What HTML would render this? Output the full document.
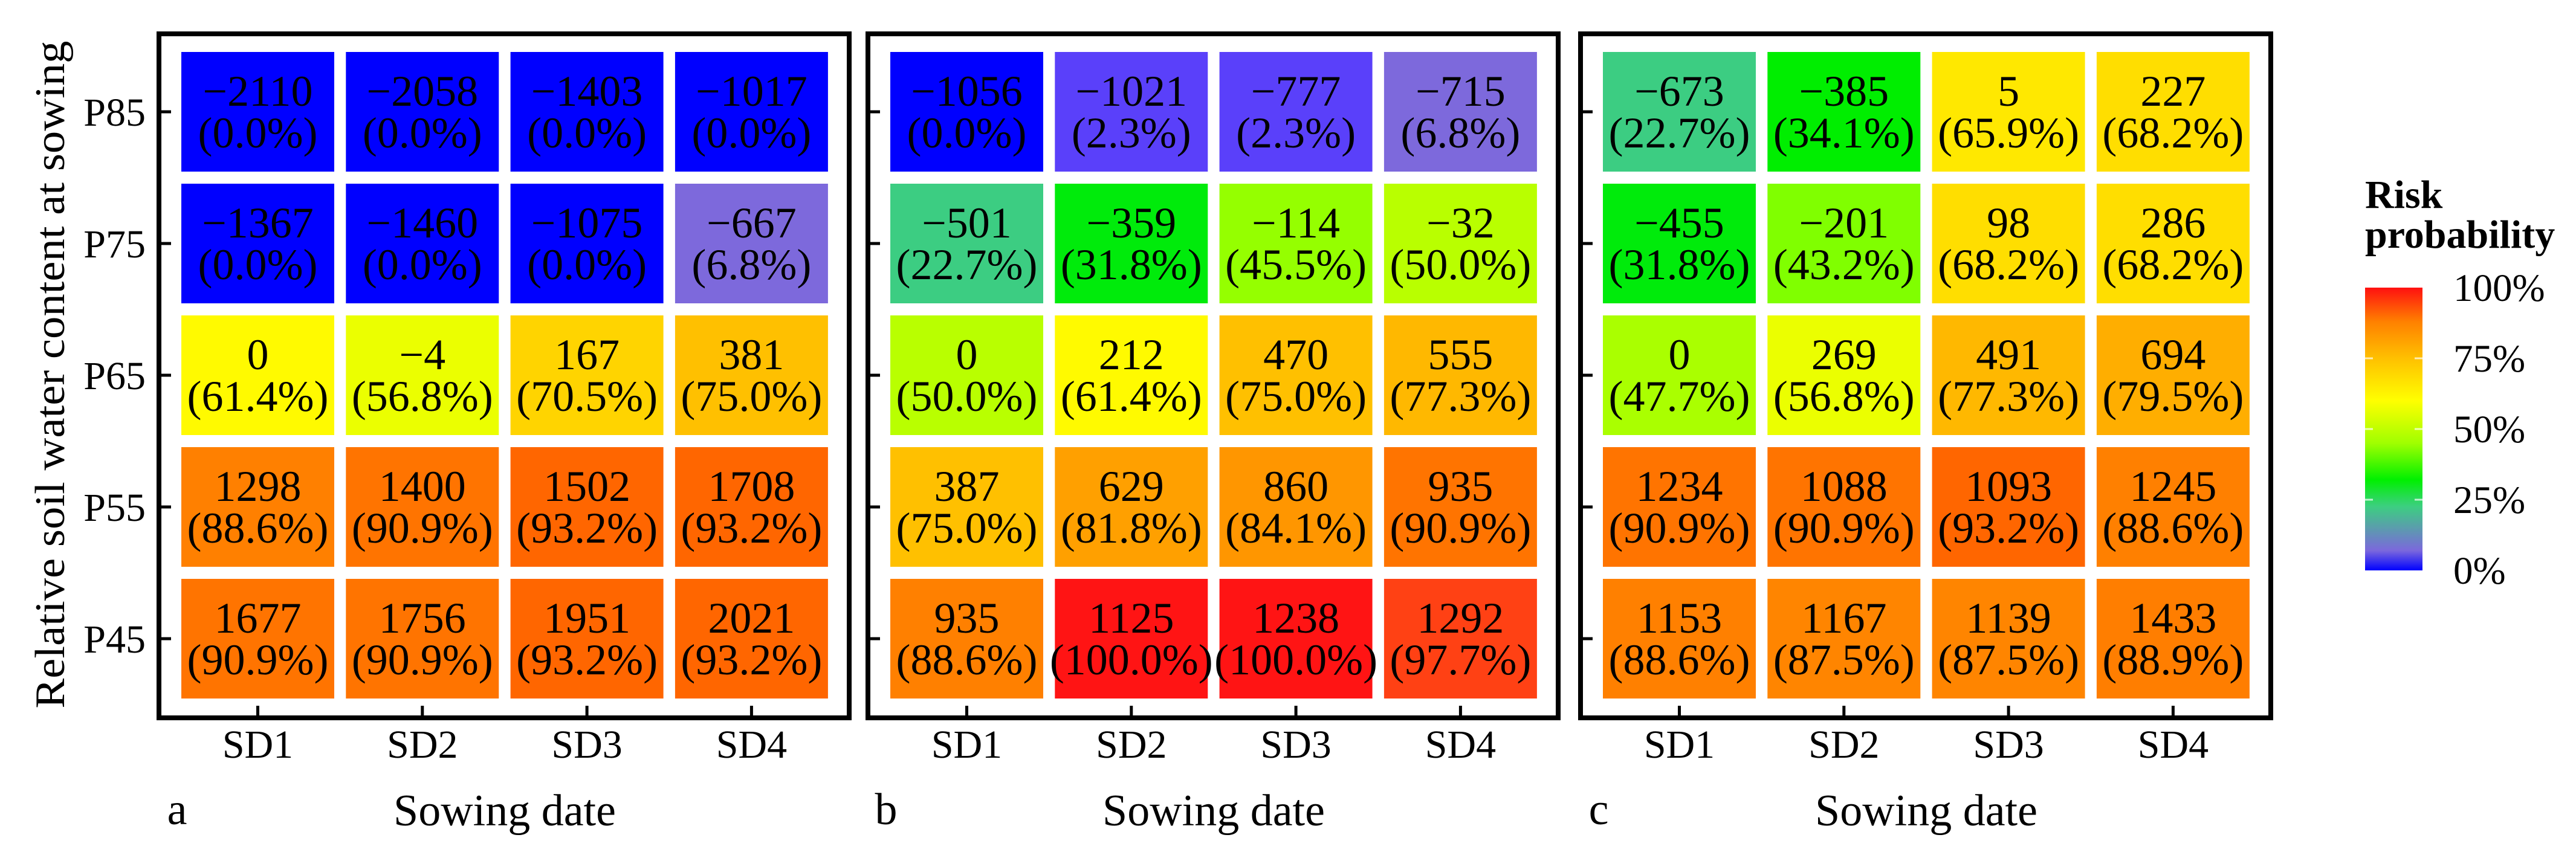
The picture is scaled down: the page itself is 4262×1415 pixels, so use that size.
<!DOCTYPE html>
<html><head><meta charset="utf-8"><style>
html,body{margin:0;padding:0;background:#fff;}
svg{display:block;font-family:"Liberation Serif","Times New Roman",serif;}
</style></head><body>
<svg id="chart" width="4262" height="1415" viewBox="0 0 4262 1415" xmlns="http://www.w3.org/2000/svg">
<defs>
<linearGradient id="cbar" x1="0" y1="1" x2="0" y2="0">
<stop offset="0" stop-color="#0000ff"/><stop offset="0.07" stop-color="#7b68dc"/><stop offset="0.227" stop-color="#3ccf80"/><stop offset="0.32" stop-color="#00f000"/><stop offset="0.45" stop-color="#a0ff00"/><stop offset="0.6" stop-color="#ffff00"/><stop offset="0.75" stop-color="#ffc000"/><stop offset="0.88" stop-color="#ff8000"/><stop offset="1" stop-color="#ff1010"/>
</linearGradient>
</defs>
<g id="panels"></g>
<text transform="translate(106,620) rotate(-90)" text-anchor="middle" font-size="70" textLength="1105" lengthAdjust="spacingAndGlyphs">Relative soil water content at sowing</text>
<g>
<text x="3913" y="344" font-size="66" font-weight="bold">Risk</text>
<text x="3913" y="410" font-size="66" font-weight="bold">probability</text>
<rect x="3913" y="476" width="95" height="468" fill="url(#cbar)"/>
<g id="cbticks"></g>
</g>
</svg>
<script>
const rowLabels = ["P85","P75","P65","P55","P45"];
const colLabels = ["SD1","SD2","SD3","SD4"];
const panelLetters = ["a","b","c"];
const valuesA = [[-2110,-2058,-1403,-1017],[-1367,-1460,-1075,-667],[0,-4,167,381],[1298,1400,1502,1708],[1677,1756,1951,2021]];
const probsA = [[0.0,0.0,0.0,0.0],[0.0,0.0,0.0,6.8],[61.4,56.8,70.5,75.0],[88.6,90.9,93.2,93.2],[90.9,90.9,93.2,93.2]];
const valuesB = [[-1056,-1021,-777,-715],[-501,-359,-114,-32],[0,212,470,555],[387,629,860,935],[935,1125,1238,1292]];
const probsB = [[0.0,2.3,2.3,6.8],[22.7,31.8,45.5,50.0],[50.0,61.4,75.0,77.3],[75.0,81.8,84.1,90.9],[88.6,100.0,100.0,97.7]];
const valuesC = [[-673,-385,5,227],[-455,-201,98,286],[0,269,491,694],[1234,1088,1093,1245],[1153,1167,1139,1433]];
const probsC = [[22.7,34.1,65.9,68.2],[31.8,43.2,68.2,68.2],[47.7,56.8,77.3,79.5],[90.9,90.9,93.2,88.6],[88.6,87.5,87.5,88.9]];
const legendTicks = [0,25,50,75,100];

const stops=[[0,0,0,255],[2.3,90,64,250],[6.8,125,105,220],[15,100,150,170],[22.7,60,205,130],[30,0,232,20],[34.1,0,238,0],[43.2,128,255,0],[47.7,170,255,0],[50,185,255,0],[56.8,235,255,0],[61.4,255,250,0],[65.9,255,232,0],[68.2,255,222,0],[70.5,255,212,0],[75,255,192,0],[77.3,255,184,0],[79.5,255,174,0],[81.8,255,160,0],[84.1,255,150,0],[88.6,255,128,0],[90.9,255,116,0],[93.2,255,102,0],[97.7,255,65,20],[100,255,20,20]];
function color(p){for(let i=1;i<stops.length;i++){if(p<=stops[i][0]){const a=stops[i-1],b=stops[i],t=(p-a[0])/(b[0]-a[0]);return `rgb(${Math.round(a[1]+t*(b[1]-a[1]))},${Math.round(a[2]+t*(b[2]-a[2]))},${Math.round(a[3]+t*(b[3]-a[3]))})`;}}return 'rgb(255,20,20)';}
const NS="http://www.w3.org/2000/svg";
function mk(tag,attrs,parent){const e=document.createElementNS(NS,tag);for(const k in attrs)e.setAttribute(k,attrs[k]);parent.appendChild(e);return e;}
const panelX=[263,1436,2615], boxW=1142, boxTop=56, boxBot=1188;
const tileW=253, tileH=198, colPitch=272.3, rowPitch=218, tileX0=37, tileY0=86;
function xCenter(px,c){return px+tileX0+c*colPitch+tileW/2;}
function yCenter(r){return tileY0+r*rowPitch+tileH/2;}
const fmt=v=>v<0?"\u2212"+Math.abs(v):String(v);
const root=document.getElementById('panels');
const data=[[valuesA,probsA],[valuesB,probsB],[valuesC,probsC]];
data.forEach((d,pi)=>{
  const px=panelX[pi];
  const g=mk('g',{},root);
  
  
  for(let r=0;r<rowLabels.length;r++)for(let c=0;c<colLabels.length;c++){
    const cx=xCenter(px,c), cy=yCenter(r);
    const rect=mk('rect',{x:cx-tileW/2,y:cy-tileH/2,width:tileW,height:tileH,fill:color(d[1][r][c])},g);
    
    
    const t1=mk('text',{x:cx,y:cy-10,'text-anchor':'middle','font-size':72},g);
    t1.textContent=fmt(d[0][r][c]);
    
    
    const t2=mk('text',{x:cx,y:cy+59,'text-anchor':'middle','font-size':72},g);
    t2.textContent='('+d[1][r][c].toFixed(1)+'%)';
    
    
  }
  const box=mk('rect',{x:px,y:boxTop,width:boxW,height:boxBot-boxTop,fill:'none',stroke:'#000','stroke-width':8},g);
  
  
  for(let r=0;r<rowLabels.length;r++){
    const y=yCenter(r);
    const tk=mk('line',{x1:px,x2:px+20,y1:y,y2:y,stroke:'#000','stroke-width':5},g);
    
    
    if(pi===0){const tl=mk('text',{x:px-22,y:y+23,'text-anchor':'end','font-size':66},g);tl.textContent=rowLabels[r];
      
      }
  }
  for(let c=0;c<colLabels.length;c++){
    const x=xCenter(px,c);
    const tk=mk('line',{x1:x,x2:x,y1:boxBot,y2:boxBot-20,stroke:'#000','stroke-width':5},g);
    
    
    const tl=mk('text',{x:x,y:1254,'text-anchor':'middle','font-size':66},g);tl.textContent=colLabels[c];
    
    
  }
  const xt=mk('text',{x:px+572,y:1366,'text-anchor':'middle','font-size':74},g);xt.textContent='Sowing date';
  
  
  const lt=mk('text',{x:px+30,y:1364,'text-anchor':'middle','font-size':74},g);lt.textContent=panelLetters[pi];
  
  
});
const cb=document.getElementById('cbticks');
legendTicks.forEach(v=>{
  const y=944-(v/100)*468;
  if(v>0&&v<100){
    const a=mk('line',{x1:3913,x2:3926,y1:y,y2:y,stroke:'#fff','stroke-width':3,opacity:0.7},cb);
    
    
    const b=mk('line',{x1:3995,x2:4008,y1:y,y2:y,stroke:'#fff','stroke-width':3,opacity:0.7},cb);
    
    
  }
  const t=mk('text',{x:4059,y:y+22,'font-size':65},cb);t.textContent=v+'%';
  
  
});
</script>
</body></html>
